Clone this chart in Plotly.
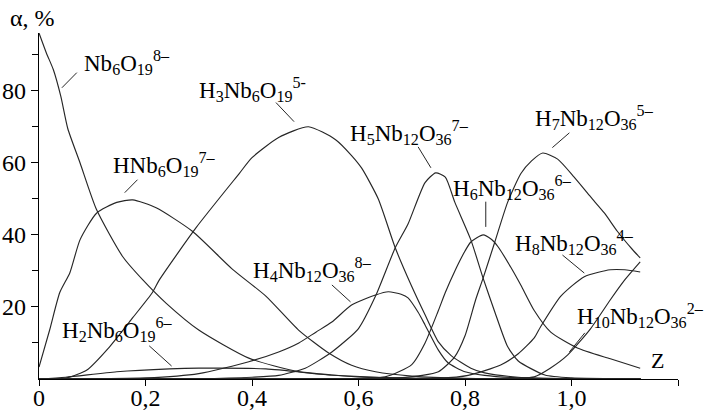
import plotly.graph_objects as go

# ---- data (Z vs alpha, %) ----
nb6_x = [0, 0.014, 0.027, 0.041, 0.054, 0.077, 0.108, 0.157, 0.195, 0.239, 0.30, 0.394, 0.488, 0.60, 0.75, 1.13]
nb6_y = [96, 90.4, 85.8, 78.4, 69.5, 60, 47, 34, 27.5, 21, 13.6, 5.8, 2, 0.6, 0.1, 0]

h1_x = [0, 0.02, 0.039, 0.058, 0.077, 0.108, 0.146, 0.176, 0.22, 0.288, 0.363, 0.426, 0.488, 0.544, 0.587, 0.632, 0.70, 0.80, 1.13]
h1_y = [3.3, 13.6, 24, 29.5, 38.6, 46, 49, 49.7, 47.5, 41, 30.5, 23, 13.5, 7.2, 3.8, 2, 0.8, 0.2, 0]

h2_x = [0, 0.05, 0.146, 0.245, 0.30, 0.426, 0.55, 0.65, 0.75, 1.13]
h2_y = [0, 0.5, 2, 2.8, 3, 2.8, 1.1, 0.4, 0.1, 0]

h3_x = [0, 0.052, 0.09, 0.13, 0.176, 0.213, 0.226, 0.295, 0.376, 0.40, 0.45, 0.506, 0.557, 0.587, 0.606, 0.637,
        0.669, 0.699, 0.725, 0.75, 0.774, 0.811, 0.837, 0.90, 1.0, 1.13]
h3_y = [0, 0.3, 2.5, 8.5, 17, 24, 27.5, 42, 57, 61.4, 67, 70, 66.4, 62, 58.5, 50,
        36.4, 26, 17.8, 10.3, 6.5, 3, 1.7, 0.5, 0.1, 0]

h4_x = [0, 0.2, 0.3, 0.394, 0.45, 0.488, 0.52, 0.55, 0.587, 0.632, 0.656, 0.68, 0.693, 0.712, 0.725, 0.75, 0.768,
        0.80, 0.837, 0.90, 1.13]
h4_y = [0, 0.3, 1.5, 4.8, 7.5, 10, 13, 15.8, 20.5, 23.3, 24.2, 23.5, 22.5, 18.5, 15, 8, 4.5, 2, 1, 0.3, 0]

h5_x = [0, 0.3, 0.40, 0.45, 0.50, 0.55, 0.60, 0.632, 0.669, 0.693, 0.725, 0.745, 0.763, 0.781, 0.811, 0.834, 0.856,
        0.88, 0.90, 0.95, 1.0, 1.13]
h5_y = [0, 0.1, 0.5, 1.0, 3, 7.5, 14, 23, 36.4, 43, 54.5, 57.2, 56, 49, 38.6, 28, 18.6, 9, 5, 1.1, 0.3, 0]

h6_x = [0, 0.55, 0.65, 0.70, 0.725, 0.75, 0.763, 0.781, 0.80, 0.811, 0.834, 0.85, 0.862, 0.886, 0.905, 0.93, 0.961,
        1.011, 1.073, 1.129]
h6_y = [0, 0.1, 0.6, 4, 10, 19, 24, 30, 35.5, 38, 40, 38.7, 36.7, 31, 26, 19, 13, 8.6, 5.6, 3]

h7_x = [0, 0.65, 0.72, 0.75, 0.78, 0.80, 0.82, 0.834, 0.856, 0.88, 0.905, 0.925, 0.946, 0.974, 1.005, 1.036, 1.062,
        1.086, 1.114, 1.129]
h7_y = [0, 0.1, 1, 2, 6, 12, 22, 28, 38, 49, 57, 60.5, 62.7, 61, 56, 50.5, 46, 41, 36, 33.6]

h8_x = [0, 0.75, 0.806, 0.867, 0.90, 0.93, 0.942, 0.98, 1.024, 1.073, 1.10, 1.129]
h8_y = [0, 0.2, 1, 3.9, 7, 11.4, 14.5, 23, 28.4, 30.3, 30.3, 29.7]

h10_x = [0, 0.85, 0.90, 0.93, 0.96, 0.993, 1.036, 1.073, 1.10, 1.129]
h10_y = [0, 0.05, 0.2, 0.6, 3, 6.7, 14, 22, 27.5, 32.5]

series = [(nb6_x, nb6_y), (h1_x, h1_y), (h2_x, h2_y), (h3_x, h3_y), (h4_x, h4_y),
          (h5_x, h5_y), (h6_x, h6_y), (h7_x, h7_y), (h8_x, h8_y), (h10_x, h10_y)]

# species labels: text, anchor x, anchor y
label_text = [
    "Nb<sub>6</sub>O<sub>19</sub><sup>8–</sup>",
    "HNb<sub>6</sub>O<sub>19</sub><sup>7–</sup>",
    "H<sub>2</sub>Nb<sub>6</sub>O<sub>19</sub><sup>6–</sup>",
    "H<sub>3</sub>Nb<sub>6</sub>O<sub>19</sub><sup>5-</sup>",
    "H<sub>4</sub>Nb<sub>12</sub>O<sub>36</sub><sup>8–</sup>",
    "H<sub>5</sub>Nb<sub>12</sub>O<sub>36</sub><sup>7–</sup>",
    "H<sub>6</sub>Nb<sub>12</sub>O<sub>36</sub><sup>6–</sup>",
    "H<sub>7</sub>Nb<sub>12</sub>O<sub>36</sub><sup>5–</sup>",
    "H<sub>8</sub>Nb<sub>12</sub>O<sub>36</sub><sup>4–</sup>",
    "H<sub>10</sub>Nb<sub>12</sub>O<sub>36</sub><sup>2–</sup>",
]
label_x = [0.080, 0.136, 0.039, 0.297, 0.398, 0.581, 0.774, 0.927, 0.890, 1.007]
label_y = [87.8, 59.4, 13.6, 80.3, 30.3, 68.3, 53.0, 72.5, 38.0, 17.5]

# leader lines (x0, y0, x1, y1)
leaders = [
    (0.071, 85.0, 0.043, 80.8),
    (0.185, 55.3, 0.161, 51.7),
    (0.207, 9.2, 0.249, 3.6),
    (0.445, 76.7, 0.479, 71.4),
    (0.550, 26.1, 0.585, 21.4),
    (0.712, 64.4, 0.736, 58.6),
    (0.839, 49.2, 0.839, 42.2),
    (0.996, 68.3, 0.964, 64.2),
    (0.983, 34.4, 1.024, 29.4),
    (1.025, 12.8, 0.996, 7.5),
]

x_tickvals = [0, 0.2, 0.4, 0.6, 0.8, 1.0, 1.2]
x_ticktext = ["0", "0,2", "0,4", "0,6", "0,8", "1,0", ""]
y_tickvals = [20, 40, 60, 80]
y_minor = [10, 30, 50, 70, 90]

FONT = "Liberation Serif"

fig = go.Figure()
for sx, sy in series:
    fig.add_trace(go.Scatter(x=sx, y=sy, mode="lines",
                             line=dict(color="#262626", width=1.15, shape="spline", smoothing=0.6),
                             showlegend=False, hoverinfo="skip"))

annotations = []
for t, lx, ly in zip(label_text, label_x, label_y):
    annotations.append(dict(x=lx, y=ly, xref="x", yref="y", text=t, showarrow=False,
                            xanchor="left", yanchor="middle",
                            font=dict(family=FONT, size=23, color="black")))
annotations.append(dict(x=-0.049, y=1.043, xref="paper", yref="paper", text="α, %", showarrow=False,
                        xanchor="left", yanchor="middle", font=dict(family=FONT, size=24, color="black")))
annotations.append(dict(x=1.146, y=5, xref="x", yref="y", text="Z", showarrow=False,
                        xanchor="left", yanchor="middle", font=dict(family=FONT, size=22, color="black")))

shapes = [dict(type="line", xref="x", yref="y", x0=a, y0=b, x1=c, y1=d,
               line=dict(color="#262626", width=1)) for a, b, c, d in leaders]

fig.update_layout(
    width=707, height=414,
    margin=dict(l=39, r=29, t=33, b=35, autoexpand=False),
    font=dict(family=FONT),
    paper_bgcolor="white", plot_bgcolor="white",
    annotations=annotations, shapes=shapes,
    xaxis=dict(range=[0, 1.2], automargin=False, showgrid=False, zeroline=False, showline=True,
               linecolor="black", linewidth=1.2,
               tickmode="array", tickvals=x_tickvals, ticktext=x_ticktext, ticks="outside", ticklen=6,
               ticklabelstandoff=-9,
               tickcolor="black", tickwidth=1.2, tickfont=dict(family=FONT, size=24, color="black")),
    yaxis=dict(range=[0, 96], automargin=False, showgrid=False, zeroline=False, showline=True,
               linecolor="black", linewidth=1.2,
               tickmode="array", tickvals=y_tickvals, ticks="outside", ticklen=7, tickcolor="black", tickwidth=1.2,
               tickfont=dict(family=FONT, size=24, color="black"),
               minor=dict(tickmode="array", tickvals=y_minor, ticks="outside", ticklen=6, tickcolor="black",
                          tickwidth=1.2, showgrid=False)),
)

fig.write_html("out.html", config={"displayModeBar": False},
               post_script="document.body.style.margin='0';document.body.style.padding='0';")
